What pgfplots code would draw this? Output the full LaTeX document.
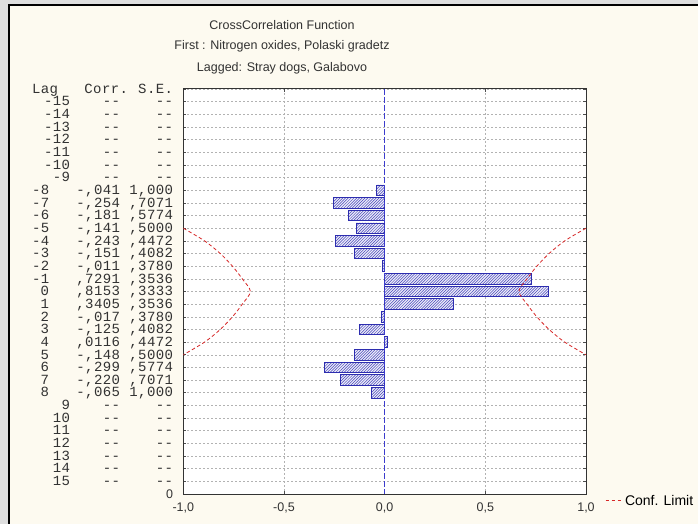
\documentclass[border=0pt]{standalone}
\usepackage{fontspec}
\setmainfont{Liberation Sans}
\newfontfamily\monofont{Liberation Mono}[LetterSpace=3]
\usepackage{pgfplots}
\pgfplotsset{compat=1.18}
\usetikzlibrary{patterns}
\pgfdeclarepatternformonly{dhatch}{\pgfqpoint{-1pt}{-1pt}}{\pgfqpoint{4pt}{4pt}}{\pgfqpoint{2.8pt}{2.8pt}}{%
  \pgfsetlinewidth{0.5pt}\pgfpathmoveto{\pgfqpoint{0pt}{0pt}}\pgfpathlineto{\pgfqpoint{2.9pt}{2.9pt}}\pgfusepath{stroke}}
\definecolor{bg}{RGB}{253,250,240}
\definecolor{barblue}{RGB}{45,45,175}
\definecolor{barfill}{RGB}{238,238,250}
\definecolor{hatch}{RGB}{70,70,185}
\definecolor{zeroblue}{RGB}{60,60,205}
\definecolor{conf}{RGB}{215,40,40}
\definecolor{frameg}{RGB}{222,222,222}
\definecolor{txt}{RGB}{50,50,50}
\newcommand\mf{\monofont\fontsize{14bp}{14bp}\selectfont}
\newcommand\rowN[3]{{\mf\makebox[38bp][l]{#1}\makebox[50bp][r]{#2}\makebox[53bp][r]{#3}}}
\newcommand\rowE[1]{{\mf\makebox[38bp][r]{#1}\makebox[50bp][r]{-{}-}\makebox[53bp][r]{-{}-}}}
\newcommand\hdr{{\mf\makebox[38bp][l]{Lag}\makebox[58bp][r]{Corr.}\makebox[45bp][r]{S.E.}}}
\begin{document}
\begin{tikzpicture}[x=1bp,y=1bp]
\path[use as bounding box] (0,0) rectangle (698,524);
\fill[frameg] (0,0) rectangle (698,524);
\fill[bg] (9,0) rectangle (698,519);
\draw[black, line width=1.3bp] (9,0) -- (9,519) -- (698,519);
\node[font=\fontsize{12.5bp}{13bp}\selectfont, text=txt] at (282,499) {CrossCorrelation Function};
\node[font=\fontsize{12.5bp}{13bp}\selectfont, text=txt] at (282,478) {First : Nitrogen oxides, Polaski gradetz};
\node[font=\fontsize{12.5bp}{13bp}\selectfont, text=txt] at (282,456) {Lagged: Stray dogs, Galabovo};
\begin{axis}[
  at={(183.3bp,30bp)}, anchor=south west, scale only axis,
  width=402.7bp, height=405bp,
  xmin=-1, xmax=1, ymin=-16, ymax=16, y dir=reverse,
  axis background/.style={fill=white},
  xtick={-1,-0.5,0,0.5,1},
  xticklabels={{-1,0},{-0,5},{0,0},{0,5},{1,0}},
  ytick={-16,-15,...,16},
  yticklabels={
    {\hdr},
    {\rowE{-15}},{\rowE{-14}},{\rowE{-13}},{\rowE{-12}},{\rowE{-11}},{\rowE{-10}},{\rowE{-9}},
    {\rowN{-8}{-,041}{1,000}},
    {\rowN{-7}{-,254}{,7071}},
    {\rowN{-6}{-,181}{,5774}},
    {\rowN{-5}{-,141}{,5000}},
    {\rowN{-4}{-,243}{,4472}},
    {\rowN{-3}{-,151}{,4082}},
    {\rowN{-2}{-,011}{,3780}},
    {\rowN{-1}{,7291}{,3536}},
    {\rowN{\hphantom{-}0}{,8153}{,3333}},
    {\rowN{\hphantom{-}1}{,3405}{,3536}},
    {\rowN{\hphantom{-}2}{-,017}{,3780}},
    {\rowN{\hphantom{-}3}{-,125}{,4082}},
    {\rowN{\hphantom{-}4}{,0116}{,4472}},
    {\rowN{\hphantom{-}5}{-,148}{,5000}},
    {\rowN{\hphantom{-}6}{-,299}{,5774}},
    {\rowN{\hphantom{-}7}{-,220}{,7071}},
    {\rowN{\hphantom{-}8}{-,065}{1,000}},
    {\rowE{9}},{\rowE{10}},{\rowE{11}},{\rowE{12}},{\rowE{13}},{\rowE{14}},{\rowE{15}},
    {\makebox[141bp][r]{\fontsize{12.5bp}{13bp}\selectfont 0}}
  },
  yticklabel style={anchor=east, inner sep=0pt, xshift=-10bp, text height=8.5bp, text depth=0bp, text=txt},
  xticklabel style={font=\fontsize{12.5bp}{13bp}\selectfont, text=txt, inner sep=0pt, yshift=-9bp},
  tick align=inside, major tick length=3bp,
  tick style={black!70, line width=0.6bp},
  xmajorgrids, ymajorgrids,
  grid style={black!30, dash pattern=on 2bp off 2bp, line width=0.5bp},
  axis line style={black!80, line width=1bp},
  legend style={at={(1,0)}, anchor=west, xshift=19bp, yshift=-6.7bp,
    draw=none, fill=none, inner sep=0pt,
    font=\fontsize{14bp}{14bp}\selectfont,
    /tikz/every even column/.append style={column sep=9bp}},
  legend image code/.code={\draw[#1] (0bp,0bp) -- (17bp,0bp);},
]
\addplot[xbar, bar width=10.5bp, draw=barblue, line width=0.9bp,
  fill=barfill, postaction={pattern=dhatch, pattern color=hatch}, forget plot]
  coordinates {
  (-0.041,-8) (-0.254,-7) (-0.181,-6) (-0.141,-5) (-0.243,-4) (-0.151,-3) (-0.011,-2)
  (0.7291,-1) (0.8153,0) (0.3405,1) (-0.017,2) (-0.125,3) (0.0116,4) (-0.148,5)
  (-0.299,6) (-0.220,7) (-0.065,8)};
\addplot[zeroblue, dash pattern=on 6bp off 2bp, line width=1bp, forget plot]
  coordinates {(0,-16) (0,16)};
\addplot[conf, dash pattern=on 3.5bp off 2.5bp, line width=0.8bp, smooth]
  coordinates {(1.0,-5) (0.8944,-4) (0.8165,-3) (0.7559,-2) (0.7071,-1) (0.6667,0)
  (0.7071,1) (0.7559,2) (0.8165,3) (0.8944,4) (1.0,5)};
\addlegendentry{Conf. Limit}
\addplot[conf, dash pattern=on 3.5bp off 2.5bp, line width=0.8bp, smooth, forget plot]
  coordinates {(-1.0,-5) (-0.8944,-4) (-0.8165,-3) (-0.7559,-2) (-0.7071,-1) (-0.6667,0)
  (-0.7071,1) (-0.7559,2) (-0.8165,3) (-0.8944,4) (-1.0,5)};
\end{axis}
\end{tikzpicture}
\end{document}
